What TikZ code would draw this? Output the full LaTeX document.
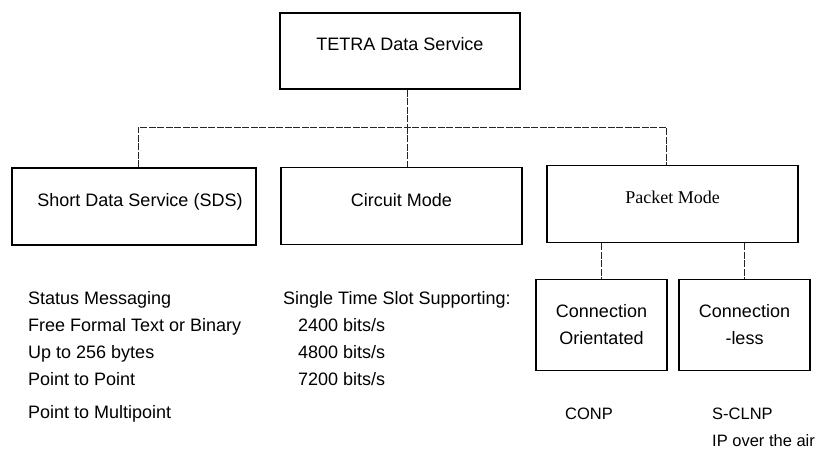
\documentclass[tikz,border=0pt]{standalone}
\usepackage{fontspec}
\setmainfont{Liberation Sans}
\newfontfamily\pkserif{Liberation Serif}
\begin{document}
\begin{tikzpicture}[x=1pt,y=-1pt,
  box/.style={draw=black,line width=1.6pt,inner sep=0pt,font=\fontsize{18}{27}\selectfont},
  topbox/.style={box,minimum width=240pt,minimum height=76pt,text height=13pt,text depth=14pt},
  childbox/.style={box,minimum height=77pt,text height=13pt,text depth=13pt},
  subbox/.style={box,minimum width=131pt,minimum height=91pt,align=center},
  conn/.style={draw=black!85,line width=0.8pt,dash pattern=on 7pt off 1.5pt},
  item/.style={anchor=base west,inner sep=0pt,font=\fontsize{18}{27}\selectfont},
  small/.style={inner sep=0pt,font=\fontsize{16.5}{24}\selectfont}]
\useasboundingbox[fill=white] (0,0) rectangle (824,457);

% boxes
\node[topbox] (top) at (400,51) {TETRA Data Service};
\node[childbox,minimum width=244pt] (sds) at (134,206.5) {\hspace{12pt}Short Data Service (SDS)};
\node[childbox,minimum width=241pt] (circuit) at (401.5,206) {Circuit Mode\hspace{8pt}};
\node[childbox,minimum width=251pt] (packet) at (672.5,204) {{\pkserif Packet Mode}\hspace{7pt}};
\node[subbox] (co) at (601.5,325) {Connection\\Orientated};
\node[subbox] (cl) at (744.5,325) {Connection\\-less};

% connectors
\coordinate (hL) at (138,127);
\coordinate (hC) at (407,127);
\coordinate (hR) at (666,127);
\draw[conn] (top.south -| hC) -- (hC);
\draw[conn] (sds.north -| hL) -- (hL) -- (hR) -- (packet.north -| hR);
\draw[conn] (hC) -- (circuit.north -| hC);
\draw[conn] (packet.south -| co.north) -- (co.north);
\draw[conn] (packet.south -| cl.north) -- (cl.north);

% SDS list
\node[item] (s1) at (28,304.5) {Status Messaging};
\node[item] (s2) at (28,331.5) {Free Formal Text or Binary};
\node[item] (s3) at (28,358.5) {Up to 256 bytes};
\node[item] (s4) at (28,385) {Point to Point};
\node[item] (s5) at (28,418) {Point to Multipoint};

% Circuit list
\node[item] (c1) at (283,304.5) {Single Time Slot Supporting:};
\node[item] (c2) at (298,331.5) {2400 bits/s};
\node[item] (c3) at (298,358.5) {4800 bits/s};
\node[item] (c4) at (298,385) {7200 bits/s};

% Packet protocols
\node[small,anchor=base] (conp) at (589,419.5) {CONP};
\node[small,anchor=base west] (sclnp) at (712,419.5) {S-CLNP};
\node[small,anchor=base west] (ip) at (712,446.5) {IP over the air};
\end{tikzpicture}
\end{document}
